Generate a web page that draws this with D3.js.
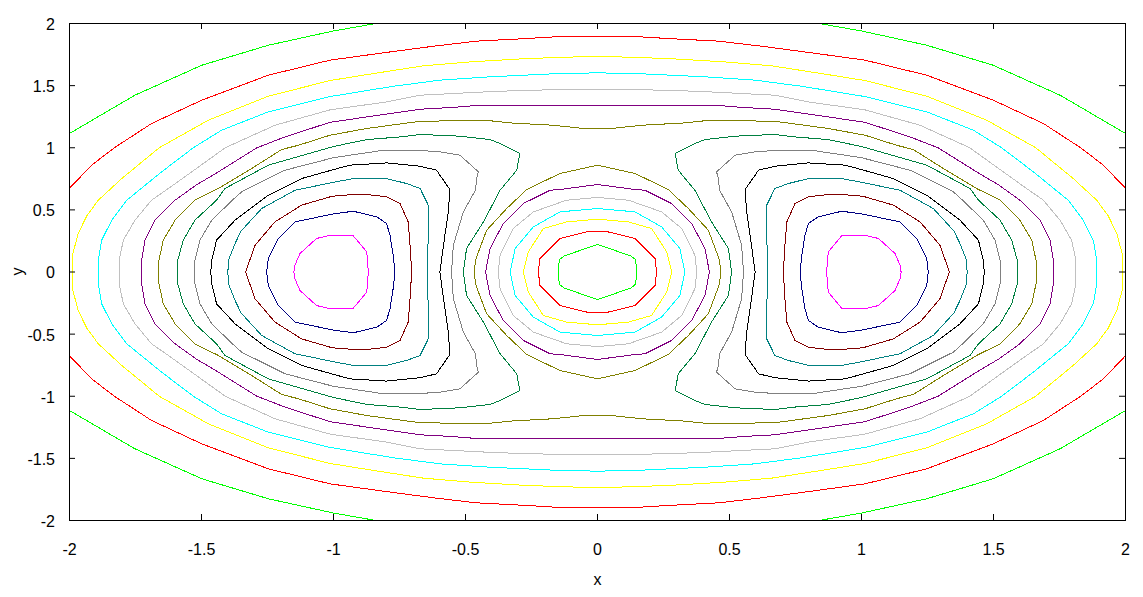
<!DOCTYPE html>
<html><head><meta charset="utf-8">
<script src="https://cdn.jsdelivr.net/npm/d3@7"></script>
<style>
body{margin:0;background:#fff}
svg{display:block}
</style>
</head><body>
<svg id="chart" width="1143" height="597"></svg>
<script>
// ---- tick values / labels ----
const xTicks = [-2, -1.5, -1, -0.5, 0, 0.5, 1, 1.5, 2];
const xTickLabels = ["-2", "-1.5", "-1", "-0.5", "0", "0.5", "1", "1.5", "2"];
const yTicks = [-2, -1.5, -1, -0.5, 0, 0.5, 1, 1.5, 2];
const yTickLabels = ["-2", "-1.5", "-1", "-0.5", "0", "0.5", "1", "1.5", "2"];

// ---- contour lines (first quadrant x>=0, y>=0; the chart is symmetric in x and y) ----
// closed loops around the origin: from (0, top) to (right, 0)
const centerGreen  = [[0,0.222],[0.125,0.13],[0.145,0.098],[0.148,0]];
const centerRed    = [[0,0.328],[0.03,0.328],[0.142,0.27],[0.218,0.109],[0.224,0]];
const centerYellow = [[0,0.425],[0.117,0.403],[0.205,0.35],[0.262,0.162],[0.281,0]];
const centerCyan   = [[0,0.511],[0.142,0.484],[0.243,0.363],[0.312,0.189],[0.331,0]];
const centerSilver = [[0,0.6],[0.117,0.578],[0.243,0.484],[0.319,0.35],[0.369,0.135],[0.376,0]];
const centerPurple = [[0,0.704],[0.142,0.664],[0.18,0.658],[0.281,0.551],[0.357,0.39],[0.407,0.189],[0.424,0]];
const centerOlive  = [[0,0.86],[0.142,0.793],[0.268,0.664],[0.344,0.511],[0.42,0.336],[0.46,0.109],[0.468,0]];

// closed loops around (1,0): from inner crossing (x,0) to outer crossing (x,0)
const lobeMagenta  = [[0.868,0],[0.874,0.162],[0.925,0.291],[1.013,0.296],[1.064,0.27],[1.127,0.149],[1.146,0.055],[1.15,0]];
const lobeNavy     = [[0.767,0],[0.775,0.15],[0.786,0.296],[0.799,0.39],[0.836,0.444],[0.925,0.489],[1.0,0.468],[1.146,0.403],[1.209,0.27],[1.247,0.109],[1.253,0]];
const lobeMaroon   = [[0.704,0],[0.71,0.216],[0.717,0.403],[0.748,0.551],[0.799,0.605],[0.874,0.624],[0.975,0.618],[1.013,0.605],[1.121,0.538],[1.222,0.403],[1.297,0.216],[1.333,0]];
const lobeTeal     = [[0.645,0],[0.641,0.3],[0.641,0.538],[0.672,0.672],[0.723,0.712],[0.799,0.752],[0.925,0.752],[1.0,0.722],[1.146,0.658],[1.272,0.511],[1.35,0.33],[1.373,0.229],[1.398,0.095],[1.4,0]];
const lobeBlack    = [[0.597,0],[0.578,0.296],[0.565,0.484],[0.559,0.664],[0.597,0.779],[0.609,0.819],[0.672,0.851],[0.799,0.878],[0.938,0.86],[1.0,0.824],[1.121,0.752],[1.247,0.618],[1.373,0.417],[1.443,0.256],[1.461,0.095],[1.465,0]];
const lobeGray     = [[0.553,0],[0.546,0.216],[0.508,0.484],[0.462,0.66],[0.458,0.752],[0.451,0.806],[0.521,0.94],[0.597,0.967],[0.672,0.978],[0.811,0.98],[1.0,0.92],[1.184,0.819],[1.348,0.645],[1.383,0.578],[1.461,0.417],[1.506,0.256],[1.525,0.095],[1.528,0]];
const lobeGreen    = [[0.508,0],[0.496,0.189],[0.432,0.403],[0.369,0.658],[0.306,0.819],[0.294,0.954],[0.369,1.034],[0.407,1.066],[0.521,1.093],[0.672,1.107],[0.748,1.087],[0.874,1.066],[1.0,1.01],[1.247,0.86],[1.411,0.672],[1.443,0.578],[1.525,0.417],[1.569,0.256],[1.59,0.095],[1.59,0]];

// closed loops around everything: from (0, top) to (right, 0)
const outerOlive   = [[0,1.155],[0.066,1.158],[0.167,1.181],[0.331,1.2],[0.401,1.216],[0.584,1.216],[0.672,1.212],[0.736,1.195],[0.874,1.155],[1.013,1.101],[1.133,1.02],[1.196,0.986],[1.31,0.833],[1.436,0.672],[1.525,0.578],[1.6,0.417],[1.645,0.256],[1.661,0.095],[1.662,0]];
const outerPurple  = [[0,1.34],[0.458,1.34],[0.552,1.324],[0.672,1.31],[0.874,1.248],[1.013,1.205],[1.184,1.087],[1.29,1.0],[1.436,0.806],[1.52,0.7],[1.6,0.578],[1.676,0.417],[1.714,0.256],[1.727,0.095],[1.729,0]];
const outerSilver  = [[0,1.471],[0.268,1.463],[0.42,1.45],[0.672,1.423],[0.799,1.369],[1.013,1.305],[1.222,1.181],[1.41,1.0],[1.537,0.806],[1.62,0.68],[1.689,0.578],[1.752,0.417],[1.796,0.256],[1.809,0.126],[1.81,0]];
const outerCyan    = [[0,1.603],[0.167,1.595],[0.407,1.571],[0.597,1.544],[0.773,1.495],[1.013,1.412],[1.247,1.289],[1.424,1.141],[1.531,1.0],[1.651,0.806],[1.783,0.578],[1.84,0.417],[1.878,0.256],[1.891,0.095],[1.892,0]];
const outerYellow  = [[0,1.737],[0.268,1.718],[0.483,1.691],[0.66,1.659],[0.849,1.597],[1.013,1.541],[1.247,1.415],[1.474,1.222],[1.66,1.0],[1.802,0.752],[1.891,0.578],[1.935,0.45],[1.967,0.31],[1.99,0.126],[1.99,0]];

// open lines that leave the plot box
const edgeRed      = [[0,1.898],[0.167,1.892],[0.268,1.879],[0.458,1.858],[0.622,1.817],[0.811,1.764],[1.013,1.705],[1.247,1.584],[1.499,1.383],[1.689,1.195],[1.83,1.0],[1.916,0.86],[2.0,0.674]];
const edgeGreen    = [[0.839,2.0],[1.0,1.94],[1.247,1.825],[1.499,1.664],[1.752,1.423],[2.0,1.115]];

const contourList = [
  ["edgeGreen", edgeGreen, "open"], ["edgeRed", edgeRed, "open"],
  ["outerYellow", outerYellow, "center"], ["outerCyan", outerCyan, "center"],
  ["outerSilver", outerSilver, "center"], ["outerPurple", outerPurple, "center"],
  ["outerOlive", outerOlive, "center"],
  ["lobeGreen", lobeGreen, "lobe"], ["lobeGray", lobeGray, "lobe"], ["lobeBlack", lobeBlack, "lobe"],
  ["lobeTeal", lobeTeal, "lobe"], ["lobeMaroon", lobeMaroon, "lobe"], ["lobeNavy", lobeNavy, "lobe"],
  ["lobeMagenta", lobeMagenta, "lobe"],
  ["centerOlive", centerOlive, "center"], ["centerPurple", centerPurple, "center"],
  ["centerSilver", centerSilver, "center"], ["centerCyan", centerCyan, "center"],
  ["centerYellow", centerYellow, "center"], ["centerRed", centerRed, "center"],
  ["centerGreen", centerGreen, "center"]
];

// ---- styles ----
const colorOf = {
  edgeGreen:"#00ff00", edgeRed:"#ff0000", outerYellow:"#ffff00", outerCyan:"#00ffff",
  outerSilver:"#c0c0c0", outerPurple:"#800080", outerOlive:"#808000",
  lobeGreen:"#008040", lobeGray:"#808080", lobeBlack:"#000000", lobeTeal:"#008080",
  lobeMaroon:"#800000", lobeNavy:"#000080", lobeMagenta:"#ff00ff",
  centerOlive:"#808000", centerPurple:"#800080", centerSilver:"#c0c0c0", centerCyan:"#00ffff",
  centerYellow:"#ffff00", centerRed:"#ff0000", centerGreen:"#00ff00"
};

const svg = d3.select("#chart");
const x = d3.scaleLinear().domain([-2, 2]).range([69, 1125]);
const y = d3.scaleLinear().domain([-2, 2]).range([520, 23]);

svg.append("defs").append("clipPath").attr("id", "plotclip")
  .append("rect").attr("x", x(-2)).attr("y", y(2)).attr("width", x(2) - x(-2) + 1).attr("height", y(-2) - y(2) + 1);

const openLine = d3.line().x(d => x(d[0]) + 0.5).y(d => y(d[1]) + 0.5);
const closedLine = d3.line().x(d => x(d[0]) + 0.5).y(d => y(d[1]) + 0.5).curve(d3.curveLinearClosed);

const mX = p => p.map(([a, b]) => [-a, b]);
const mY = p => p.map(([a, b]) => [a, -b]);

function centerLoop(q) {
  const right = q.concat(mY(q.slice(0, -1).reverse()));
  const left = mX(right.slice(1, -1).reverse());
  return right.concat(left);
}
function lobeLoop(q) {
  return q.concat(mY(q.slice(1, -1).reverse()));
}

const gLines = svg.append("g").attr("clip-path", "url(#plotclip)")
  .attr("fill", "none").attr("stroke-width", 1).attr("shape-rendering", "crispEdges");

contourList.forEach(([name, q, kind]) => {
  const col = colorOf[name];
  let closed = [], open = [];
  if (kind === "center") closed = [centerLoop(q)];
  else if (kind === "lobe") { const L = lobeLoop(q); closed = [L, mX(L)]; }
  else open = [q, mX(q), mY(q), mX(mY(q))];
  closed.forEach(p => gLines.append("path").attr("d", closedLine(p)).attr("stroke", col));
  open.forEach(p => gLines.append("path").attr("d", openLine(p)).attr("stroke", col));
});

// ---- axes ----
const fontFam = "'Liberation Sans', Arial, sans-serif";
function styleAxis(g) {
  g.select(".domain").remove();
  g.attr("font-family", fontFam).attr("font-size", 16);
  g.selectAll("line").attr("stroke", "#000");
  g.selectAll("text").attr("fill", "#000");
}
svg.append("g").attr("transform", `translate(0,${y(-2)})`)
  .call(d3.axisBottom(x).tickValues(xTicks).tickFormat((d, i) => xTickLabels[i]).tickSize(-6).tickPadding(24))
  .call(styleAxis);
svg.append("g").attr("transform", `translate(0,${y(2)})`)
  .call(d3.axisTop(x).tickValues(xTicks).tickFormat("").tickSize(-6))
  .call(styleAxis);
svg.append("g").attr("transform", `translate(${x(-2)},0)`)
  .call(d3.axisLeft(y).tickValues(yTicks).tickFormat((d, i) => yTickLabels[i]).tickSize(-6).tickPadding(14))
  .call(styleAxis)
  .call(g => g.selectAll("text").attr("dy", "0.40em"));
svg.append("g").attr("transform", `translate(${x(2)},0)`)
  .call(d3.axisRight(y).tickValues(yTicks).tickFormat("").tickSize(-6))
  .call(styleAxis);

// frame
svg.append("rect").attr("x", x(-2) + 0.5).attr("y", y(2) + 0.5)
  .attr("width", x(2) - x(-2)).attr("height", y(-2) - y(2))
  .attr("fill", "none").attr("stroke", "#000").attr("stroke-width", 1);

// axis titles
svg.append("text").attr("x", x(0) + 0.5).attr("y", 585).attr("text-anchor", "middle")
  .attr("font-family", fontFam).attr("font-size", 16).text("x");
svg.append("text").attr("transform", `translate(23,${y(0)}) rotate(-90)`).attr("text-anchor", "middle")
  .attr("font-family", fontFam).attr("font-size", 16).text("y");
</script>
</body></html>
